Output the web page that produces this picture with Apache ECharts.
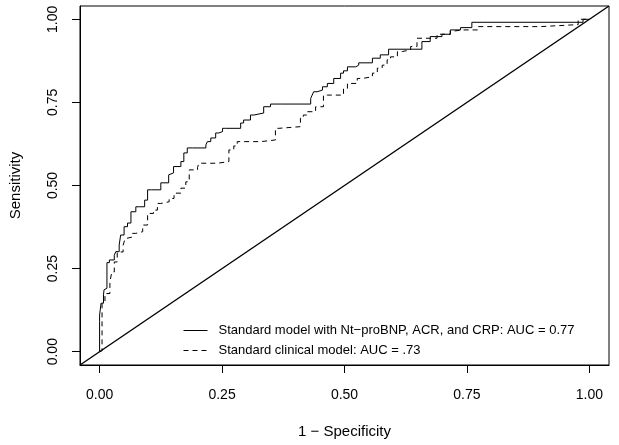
<!DOCTYPE html>
<html>
<head>
<meta charset="utf-8">
<script src="https://cdn.jsdelivr.net/npm/echarts@6/dist/echarts.min.js"></script>
<style>html,body{margin:0;padding:0;background:#fff}#c{width:619px;height:445px}</style>
</head>
<body>
<div id="c"></div>
<script>
const tickValues = [0, 0.25, 0.5, 0.75, 1];
const xTitle = '1 \u2212 Specificity';
const yTitle = 'Sensitivity';
const nameFull = 'Standard model with Nt\u2212proBNP, ACR, and CRP: AUC = 0.77';
const nameClinical = 'Standard clinical model: AUC = .73';

const fullFpr = [0, 0, 0, 0.003, 0.008, 0.009, 0.013, 0.015, 0.020, 0.030, 0.033, 0.040, 0.043, 0.050, 0.057, 0.064, 0.074, 0.081, 0.092, 0.098, 0.106, 0.125, 0.128, 0.141, 0.143, 0.151, 0.156, 0.166, 0.172, 0.179, 0.190, 0.217, 0.220, 0.227, 0.237, 0.243, 0.251, 0.257, 0.288, 0.294, 0.308, 0.315, 0.335, 0.349, 0.370, 0.431, 0.434, 0.437, 0.444, 0.455, 0.465, 0.478, 0.492, 0.498, 0.506, 0.523, 0.529, 0.557, 0.573, 0.590, 0.594, 0.658, 0.658, 0.675, 0.699, 0.716, 0.737, 0.760, 0.781, 0.987, 0.987, 1.0];
const fullTpr = [0, 0.005, 0.09, 0.11, 0.146, 0.171, 0.186, 0.191, 0.268, 0.276, 0.290, 0.301, 0.321, 0.351, 0.376, 0.387, 0.421, 0.436, 0.436, 0.456, 0.487, 0.487, 0.508, 0.508, 0.532, 0.538, 0.557, 0.557, 0.572, 0.598, 0.613, 0.613, 0.622, 0.632, 0.643, 0.658, 0.662, 0.672, 0.672, 0.688, 0.697, 0.712, 0.718, 0.737, 0.745, 0.745, 0.762, 0.772, 0.782, 0.787, 0.797, 0.807, 0.822, 0.838, 0.845, 0.857, 0.862, 0.869, 0.883, 0.893, 0.910, 0.910, 0.925, 0.933, 0.948, 0.955, 0.968, 0.975, 0.991, 0.991, 1.0, 1.0];

const clinFpr = [0, 0.005, 0.005, 0.011, 0.021, 0.025, 0.030, 0.036, 0.037, 0.048, 0.052, 0.056, 0.067, 0.074, 0.088, 0.098, 0.110, 0.118, 0.125, 0.142, 0.152, 0.166, 0.176, 0.183, 0.200, 0.203, 0.241, 0.264, 0.274, 0.281, 0.329, 0.359, 0.366, 0.410, 0.416, 0.424, 0.441, 0.457, 0.465, 0.498, 0.506, 0.526, 0.536, 0.557, 0.567, 0.577, 0.587, 0.594, 0.608, 0.618, 0.635, 0.648, 0.662, 0.689, 0.716, 0.726, 0.740, 0.773, 0.777, 0.900, 0.902, 0.977, 0.981, 1.0];
const clinTpr = [0, 0.003, 0.145, 0.150, 0.175, 0.210, 0.240, 0.270, 0.300, 0.300, 0.320, 0.340, 0.345, 0.356, 0.361, 0.381, 0.416, 0.426, 0.446, 0.451, 0.461, 0.477, 0.492, 0.511, 0.547, 0.555, 0.567, 0.572, 0.607, 0.619, 0.632, 0.637, 0.672, 0.677, 0.702, 0.712, 0.722, 0.737, 0.772, 0.772, 0.792, 0.807, 0.822, 0.827, 0.838, 0.853, 0.862, 0.878, 0.887, 0.903, 0.908, 0.918, 0.943, 0.943, 0.955, 0.965, 0.968, 0.968, 0.978, 0.978, 0.984, 0.984, 1.0, 1.0];

const diagX = [-0.04, 1.04];
const diagY = [-0.04, 1.04];

const zip = (a, b) => a.map((v, i) => [v, b[i]]);
const font = '"Liberation Sans", Arial, sans-serif';

const chart = echarts.init(document.getElementById('c'), null, {renderer: 'canvas'});
const axisCommon = {
  type: 'value', min: -0.04, max: 1.04,
  nameLocation: 'middle',
  nameTextStyle: {fontFamily: font, fontSize: 15, color: '#000'},
  splitLine: {show: false},
  axisLine: {show: true, onZero: false, lineStyle: {color: '#000', width: 1}},
  axisTick: {show: true, length: 8, lineStyle: {color: '#000', width: 1}, customValues: tickValues},
  axisLabel: {fontFamily: font, fontSize: 14, color: '#000', customValues: tickValues, formatter: v => v.toFixed(2)}
};
chart.setOption({
  animation: false,
  backgroundColor: '#fff',
  grid: {left: 79, right: 10, top: 6, bottom: 80, show: true, borderColor: '#000', borderWidth: 1, containLabel: false},
  xAxis: Object.assign({}, axisCommon, {name: xTitle, nameGap: 59, axisLabel: Object.assign({}, axisCommon.axisLabel, {margin: 23})}),
  yAxis: Object.assign({}, axisCommon, {name: yTitle, nameGap: 57, axisLabel: Object.assign({}, axisCommon.axisLabel, {margin: 20, rotate: 90})}),
  legend: {
    orient: 'vertical', left: 178, top: 319, itemWidth: 24, itemHeight: 14, itemGap: 7,
    data: [nameFull, nameClinical],
    itemStyle: {opacity: 0},
    lineStyle: {width: 1},
    textStyle: {fontFamily: font, fontSize: 13, color: '#000', padding: [0, 0, 0, 6]}
  },
  series: [
    {name: nameFull, type: 'line', data: zip(fullFpr, fullTpr), symbol: 'none', step: 'start',
     lineStyle: {color: '#000', width: 1}, itemStyle: {color: '#000'}},
    {name: nameClinical, type: 'line', data: zip(clinFpr, clinTpr), symbol: 'none', step: 'start',
     lineStyle: {color: '#000', width: 1, type: [5, 4]}, itemStyle: {color: '#000'}},
    {name: 'diag', type: 'line', data: zip(diagX, diagY), symbol: 'none',
     lineStyle: {color: '#000', width: 1.4}, silent: true}
  ]
});
</script>
</body>
</html>
